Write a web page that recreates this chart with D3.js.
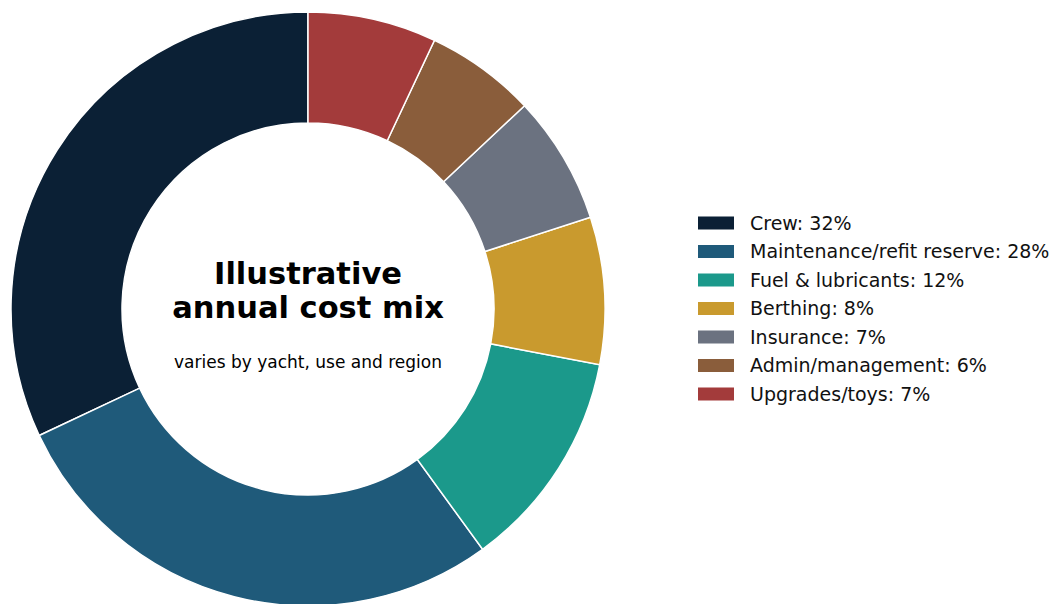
<!DOCTYPE html>
<html>
<head>
<meta charset="utf-8">
<script src="https://cdn.jsdelivr.net/npm/d3@7"></script>
<style>
  body { margin: 0; background: #fff; }
  svg { display: block; font-family: "DejaVu Sans", sans-serif; }
</style>
</head>
<body>
<svg id="chart" width="1051" height="604"></svg>
<script>
const categories = ["Crew", "Maintenance/refit reserve", "Fuel & lubricants", "Berthing", "Insurance", "Admin/management", "Upgrades/toys"];
const shares = [32, 28, 12, 8, 7, 6, 7];
const colors = ["#0b2035", "#1f5a7a", "#1b998b", "#c99a2e", "#6b7280", "#8a5d3b", "#a33b3b"];

const data = categories.map((c, i) => ({ name: c, value: shares[i], color: colors[i] }));

const svg = d3.select("#chart");
const cx = 308, cy = 309;
const outerR = 297, innerR = 186;

// matplotlib style: start at top, go counter-clockwise
const pie = d3.pie()
    .value(d => d.value)
    .sort(null)
    .startAngle(0)
    .endAngle(-2 * Math.PI);

const arc = d3.arc().innerRadius(innerR).outerRadius(outerR);

const g = svg.append("g").attr("transform", `translate(${cx},${cy})`);

g.selectAll("path")
    .data(pie(data))
    .join("path")
    .attr("d", arc)
    .attr("fill", d => d.data.color)
    .attr("stroke", "#fff")
    .attr("stroke-width", 1.5);

g.append("text")
    .attr("text-anchor", "middle")
    .attr("y", -25)
    .attr("font-size", 30.5)
    .attr("font-weight", "bold")
    .text("Illustrative");
g.append("text")
    .attr("text-anchor", "middle")
    .attr("y", 9)
    .attr("font-size", 30.5)
    .attr("font-weight", "bold")
    .text("annual cost mix");
g.append("text")
    .attr("text-anchor", "middle")
    .attr("y", 59)
    .attr("font-size", 17)
    .text("varies by yacht, use and region");

const legend = svg.append("g").attr("transform", "translate(698,223)");
const rowH = 28.5;
const items = legend.selectAll("g")
    .data(data)
    .join("g")
    .attr("transform", (d, i) => `translate(0,${i * rowH})`);
items.append("rect")
    .attr("x", 0).attr("y", -6.5)
    .attr("width", 36).attr("height", 13)
    .attr("fill", d => d.color);
items.append("text")
    .attr("x", 52)
    .attr("dy", "0.35em")
    .attr("font-size", 19)
    .attr("fill", "#111")
    .text(d => `${d.name}: ${d.value}%`);
</script>
</body>
</html>
